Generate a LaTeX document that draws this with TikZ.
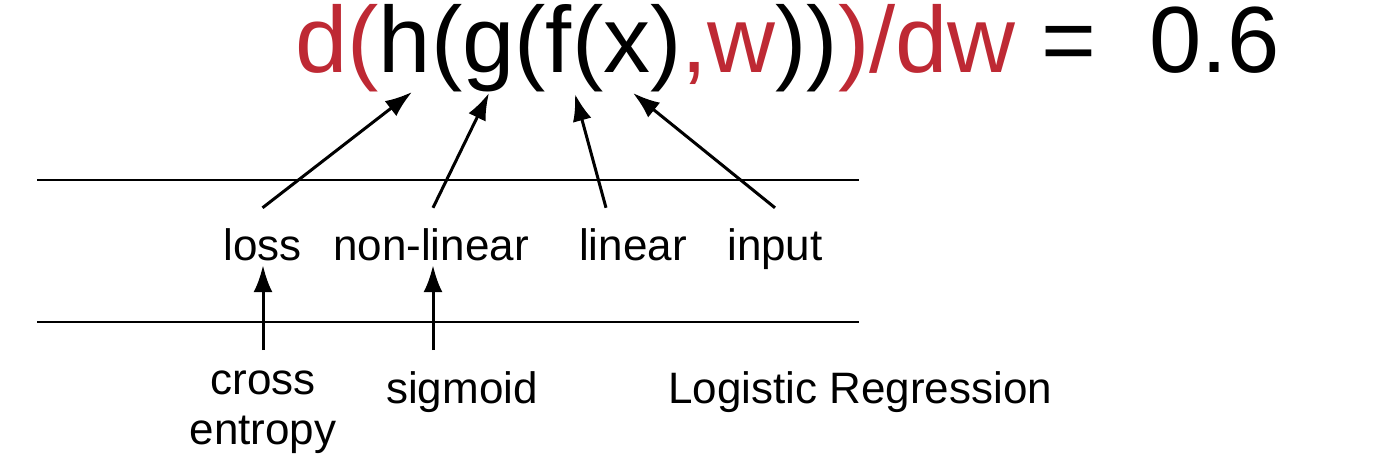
\documentclass[tikz,border=0pt]{standalone}
\usepackage{fontspec}
\setmainfont{Liberation Sans}
\usepackage{tikz}
\usetikzlibrary{arrows.meta, calc}

\definecolor{gradred}{RGB}{190,41,52}

\tikzset{
  formula/.style={font=\fontsize{94}{110}\selectfont, inner sep=0pt, anchor=base west},
  lbl/.style={font=\fontsize{44}{50}\selectfont, inner sep=0pt, text height=32pt, text depth=0pt, anchor=base},
  arr/.style={-{Latex[length=27pt,width=19pt]}, line width=3pt},
  rule/.style={line width=2.2pt}
}

\begin{document}
\begin{tikzpicture}[x=1pt, y=-1pt]
        \useasboundingbox (0,0) rectangle (1400,459);

        % the derivative on top
        \node[formula] (eq) at (295,72) {\textcolor{gradred}{d(}h(g(f(x)\textcolor{gradred}{,w}))\textcolor{gradred}{)/dw} = \ 0.6};
        \coordinate (hArg) at (412,92);
        \coordinate (gArg) at (489,93);
        \coordinate (fArg) at (575,94);
        \coordinate (xArg) at (633,93);

        \draw[rule] (37,180) -- (859,180);
        \draw[rule] (37,322) -- (859,322);

        % what each function is
        \node[lbl] (loss) at (262.5,260) {loss};
        \node[lbl] (nonlin) at (431,260) {non-linear};
        \node[lbl] (linear) at (633,260) {linear};
        \node[lbl] (input) at (775,260) {input};

        \draw[arr] ([yshift=20pt]loss.north) -- (hArg);
        \draw[arr] ([xshift=2pt,yshift=20pt]nonlin.north) -- (gArg);
        \draw[arr] ([xshift=-27pt,yshift=20pt]linear.north) -- (fArg);
        \draw[arr] ([yshift=20pt]input.north) -- (xArg);

        % for logistic regression
        \node[lbl, align=center] (crossent) at (263,444) {cross\\entropy};
        \node[lbl, anchor=base west] (sigmoid) at (386,403) {sigmoid};
        \node[lbl, anchor=base west] (logreg) at (668,403) {Logistic Regression};

        \coordinate (lossFoot) at (263,350);
        \coordinate (nonlinFoot) at (433,350);
        \draw[arr, shorten >=5pt] (lossFoot) -- (lossFoot |- loss.south);
        \draw[arr, shorten >=5pt] (nonlinFoot) -- (nonlinFoot |- nonlin.south);

    \end{tikzpicture}
\end{document}
